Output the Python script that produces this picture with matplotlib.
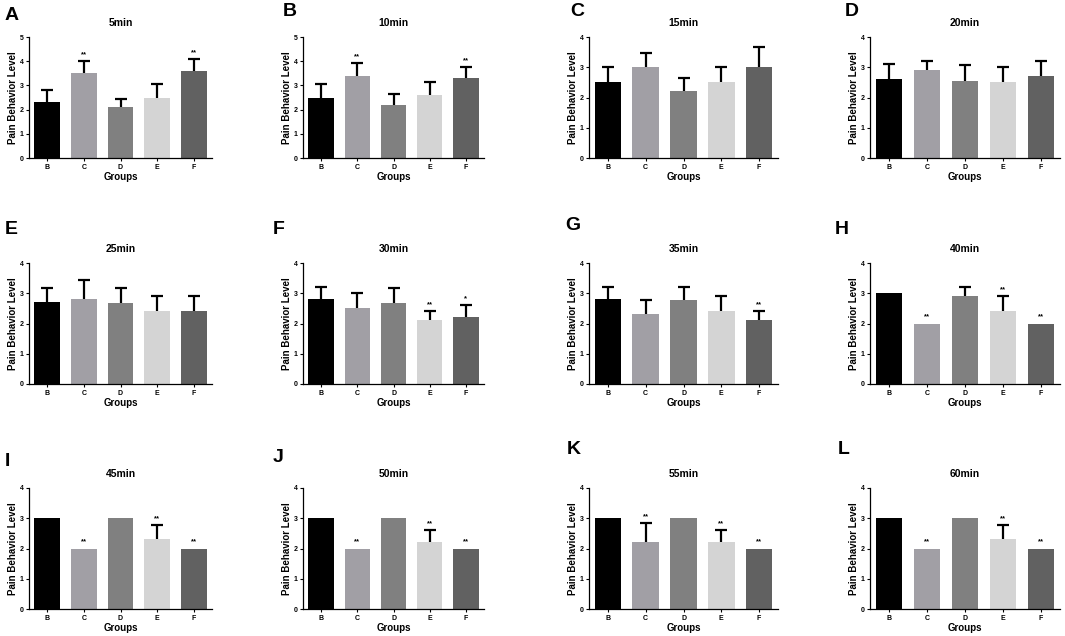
import numpy as np
import matplotlib
matplotlib.use('Agg')
import matplotlib.pyplot as plt

plt.rcParams['font.family'] = ['Liberation Sans', 'DejaVu Sans']
plt.rcParams['font.weight'] = 'bold'

# Data
groups = ['B', 'C', 'D', 'E', 'F']
bar_colors = ['#000000', '#a19fa5', '#808080', '#d4d4d4', '#616161']
letters = list('ABCDEFGHIJKL')
titles = ['5min', '10min', '15min', '20min', '25min', '30min',
          '35min', '40min', '45min', '50min', '55min', '60min']

m5 = [2.3, 3.5, 2.1, 2.5, 3.6]
e5 = [0.5, 0.52, 0.35, 0.55, 0.5]
m10 = [2.5, 3.4, 2.2, 2.6, 3.3]
e10 = [0.55, 0.52, 0.45, 0.52, 0.48]
m15 = [2.5, 3.0, 2.2, 2.5, 3.0]
e15 = [0.52, 0.47, 0.45, 0.52, 0.67]
m20 = [2.6, 2.9, 2.55, 2.5, 2.7]
e20 = [0.52, 0.32, 0.53, 0.52, 0.5]
m25 = [2.7, 2.8, 2.67, 2.4, 2.4]
e25 = [0.48, 0.63, 0.5, 0.52, 0.52]
m30 = [2.8, 2.5, 2.67, 2.1, 2.2]
e30 = [0.42, 0.52, 0.5, 0.32, 0.42]
m35 = [2.8, 2.3, 2.78, 2.4, 2.1]
e35 = [0.42, 0.48, 0.44, 0.52, 0.32]
m40 = [3.0, 2.0, 2.9, 2.4, 2.0]
e40 = [0, 0, 0.32, 0.52, 0]
m45 = [3.0, 2.0, 3.0, 2.3, 2.0]
e45 = [0, 0, 0, 0.48, 0]
m50 = [3.0, 2.0, 3.0, 2.2, 2.0]
e50 = [0, 0, 0, 0.42, 0]
m55 = [3.0, 2.2, 3.0, 2.2, 2.0]
e55 = [0, 0.63, 0, 0.42, 0]
m60 = [3.0, 2.0, 3.0, 2.3, 2.0]
e60 = [0, 0, 0, 0.48, 0]

s_early = ['', '**', '', '', '**']
s_none = ['', '', '', '', '']
s_30 = ['', '', '', '**', '*']
s_35 = ['', '', '', '', '**']
s_late = ['', '**', '', '**', '**']

means = [m5, m10, m15, m20, m25, m30, m35, m40, m45, m50, m55, m60]
errs = [e5, e10, e15, e20, e25, e30, e35, e40, e45, e50, e55, e60]
stars = [s_early, s_early, s_none, s_none, s_none, s_30,
         s_35, s_late, s_late, s_late, s_late, s_late]
ymax = [5, 5, 4, 4, 4, 4, 4, 4, 4, 4, 4, 4]

# layout in pixels (figure is 1065 x 636)
W, H = 1065, 636
col_left = [29, 303, 589, 870]
col_width = [183, 181, 189, 190]
row_top = [37, 263, 488]
row_height = 121
letter_x = [5, 283, 570, 845, 5, 273, 565, 835, 5, 273, 567, 838]
letter_y = [15, 12, 12, 12, 229, 229, 226, 229, 461, 457, 450, 450]

fig = plt.figure(figsize=(W / 100, H / 100), dpi=100)
x = np.arange(len(groups))

for i in range(12):
    r, c = divmod(i, 4)
    ax = fig.add_axes([col_left[c] / W, 1 - (row_top[r] + row_height) / H,
                       col_width[c] / W, row_height / H])
    m = np.array(means[i])
    e = np.array(errs[i])
    ax.bar(x, m, width=0.7, color=bar_colors, zorder=2)
    # upper error bars only, started just inside the bar top
    has = e > 0
    if has.any():
        _, caps, _ = ax.errorbar(x[has], m[has] - 0.08, yerr=[np.zeros(has.sum()), e[has] + 0.08],
                                 fmt='none', ecolor='black', elinewidth=1.6,
                                 capsize=4.5, capthick=1.6, zorder=1)
        caps[0].set_visible(False)
    for xi, mi, ei, s in zip(x, m, e, stars[i]):
        if s:
            ax.annotate(s, (xi, mi + ei), xytext=(0, 2), textcoords='offset points',
                        ha='center', va='bottom', fontsize=5.5, fontweight='bold')
    ax.set_xlim(-0.5, 4.5)
    ax.set_ylim(0, ymax[i])
    ax.set_yticks(range(ymax[i] + 1))
    ax.set_xticks(x)
    ax.set_xticklabels(groups)
    ax.spines['top'].set_visible(False)
    ax.spines['right'].set_visible(False)
    ax.spines['left'].set_linewidth(0.9)
    ax.spines['bottom'].set_linewidth(0.9)
    ax.tick_params(labelsize=5, length=2.5, width=0.8, pad=1.5)
    ax.set_title(titles[i], fontsize=7.5, fontweight='bold', pad=8)
    ax.set_xlabel('Groups', fontsize=7, fontweight='bold', labelpad=1)
    ax.set_ylabel('Pain Behavior Level', fontsize=7, fontweight='bold', labelpad=1)
    fig.text(letter_x[i] / W, 1 - letter_y[i] / H, letters[i],
             fontsize=14, fontweight='bold', ha='left', va='center')

fig.savefig('out.png', dpi=100)
